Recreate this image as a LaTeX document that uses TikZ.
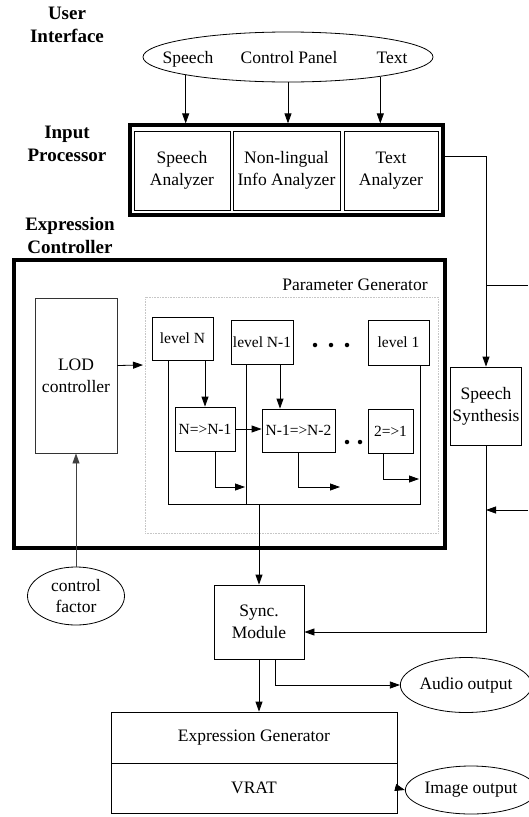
\documentclass[tikz,border=0pt]{standalone}
\usepackage{fontspec}
\setmainfont{Liberation Serif}
\usetikzlibrary{arrows.meta,shapes.geometric,calc}
\tikzset{
  lbl/.style={font=\fontsize{19}{23}\selectfont\bfseries, align=center, inner sep=0pt},
  txt/.style={font=\fontsize{17.5}{22}\selectfont, inner sep=0pt},
  boxA/.style={draw, line width=0.8pt, font=\fontsize{17.5}{22}\selectfont, align=center, inner sep=0pt},
  boxS/.style={draw, line width=0.8pt, font=\fontsize{15.5}{19}\selectfont, align=center, inner sep=0pt},
  thickbox/.style={draw, line width=3.2pt, inner sep=0pt},
  ell/.style={draw, ellipse, line width=0.8pt, font=\fontsize{17.5}{21}\selectfont, align=center, inner sep=0pt},
  conn/.style={line width=0.8pt},
  arr/.style={line width=0.8pt, -{Triangle[length=10pt,width=7pt]}},
  dotn/.style={circle, fill, inner sep=0pt, minimum size=4.5pt},
}
\begin{document}
\begin{tikzpicture}[x=1pt,y=-1pt]
\useasboundingbox (0,0) rectangle (528,817);

% section labels
\node[lbl] (lUI) at (67,25) {User\\Interface};
\node[lbl] (lIP) at (67,144) {Input\\Processor};
\node[lbl] (lEC) at (70,235) {Expression\\Controller};

% user interface ellipse
\node[ell, minimum width=290pt, minimum height=50pt] (ui) at (288,57) {};
\node[txt, anchor=base] (sp) at (188,63) {Speech};
\node[txt, anchor=base] (cp) at (289,63) {Control Panel};
\node[txt, anchor=base] (tx) at (392,63) {Text};

% input processor
\node[thickbox, minimum width=313pt, minimum height=90pt] (ip) at (286.5,170) {};
\node[boxA, minimum width=96pt, minimum height=79pt] (sa) at (182,170.5) {Speech\\Analyzer};
\node[boxA, minimum width=107pt, minimum height=79pt] (na) at (286.5,170.5) {Non-lingual\\Info Analyzer};
\node[boxA, minimum width=94pt, minimum height=79pt] (ta) at (391,170.5) {Text\\Analyzer};

\draw[arr] (ui.190.85) -- (ui.190.85 |- ip.north);
\draw[arr] (ui.south) -- (ui.south |- ip.north);
\draw[arr] (ui.348.75) -- (ui.348.75 |- ip.north);

% expression controller
\node[thickbox, minimum width=431pt, minimum height=288pt] (ec) at (229.5,404) {};
\node[txt] (pg) at (355,285) {Parameter Generator};
\node[draw=gray!45, densely dotted, line width=0.6pt, minimum width=293pt, minimum height=236pt, inner sep=0pt] (pgb) at (291.5,415) {};

\node[boxA, draw=black!80, minimum width=82pt, minimum height=155pt] (lod) at (76,375.5) {LOD\\controller};
\coordinate (lodarr) at (143,365);
\draw[arr] ([yshift=10pt]lod.east) -- (lodarr);

\node[boxS, minimum width=61pt, minimum height=43pt] (lvN) at (182.5,338.5) {level N};
\node[boxS, minimum width=62pt, minimum height=44pt] (lvM) at (262,342) {level N-1};
\node[boxS, minimum width=61pt, minimum height=45pt] (lv1) at (398.5,342.5) {level 1};
\node[dotn] (d1) at (315,345) {};
\node[dotn] (d2) at (331,345) {};
\node[dotn] (d3) at (347,345) {};

\node[boxS, minimum width=60pt, minimum height=44pt] (t1) at (205,429) {N=>N-1};
\node[boxS, minimum width=73pt, minimum height=43pt] (t2) at (298.5,430.5) {N-1=>N-2};
\node[boxS, minimum width=45pt, minimum height=44pt] (t3) at (390.5,431) {2=>1};
\node[dotn] (e1) at (347,442) {};
\node[dotn] (e2) at (360,442) {};

\coordinate (bl) at (168,504);
\coordinate (bm) at (246,504);
\coordinate (br) at (420,504);
\draw[conn] (lvN.south -| bl) -- (bl) -- (br) -- (lv1.south -| br);
\draw[conn] (lvM.south -| bm) -- (bm);

\draw[arr] (lvN.south -| t1.north) -- (t1.north);
\draw[arr] ([xshift=18pt]lvM.south) -- ([xshift=18pt]lvM.south |- t2.north);
\draw[arr] (t1.east) -- (t1.east -| t2.west);

\coordinate (o1) at (245,487);
\coordinate (o2) at (340,487);
\coordinate (o3) at (419,479);
\draw[arr] ([xshift=10pt]t1.south) |- (o1);
\draw[arr] (t2.south) |- (o2);
\draw[arr] ([xshift=-7.5pt]t3.south) |- (o3);

% sync module
\node[boxA, minimum width=90pt, minimum height=74pt] (sy) at (259,622) {Sync.\\Module};
\draw[arr] (bl -| sy.north) -- (sy.north);

% control factor
\node[ell, minimum width=97pt, minimum height=58pt] (cf) at (76,596) {control\\factor};
\draw[arr, draw=black!75] (cf.north) -- (lod.south);

% speech synthesis
\node[boxA, minimum width=71pt, minimum height=78pt] (ss) at (486,406) {Speech\\Synthesis};
\draw[arr] ([yshift=14pt]ip.east) -| (ss.north);
\coordinate (edgeA) at (528,285);
\draw[conn] (ss.north |- edgeA) -- (edgeA);
\draw[arr] (ss.south) |- ([yshift=-10pt]sy.east);
\coordinate (edgeB) at (528,510);
\draw[arr] (edgeB) -- (edgeB -| ss.south);

% outputs
\node[ell, minimum width=109pt, minimum height=55pt] (ao) at (466,685) {Audio output};
\node[boxA, minimum width=286pt, minimum height=51pt] (eg) at (254,737.5) {Expression Generator};
\node[boxA, minimum width=286pt, minimum height=50pt] (vr) at (254,788) {VRAT};
\node[ell, minimum width=103pt, minimum height=48pt] (io) at (471,790) {Image output};

\draw[arr] (sy.south) -- (sy.south |- eg.north);
\draw[arr] ([xshift=16pt]sy.south) |- (ao.west);
\draw[arr] (vr.east) -- (io.west);
\end{tikzpicture}
\end{document}
